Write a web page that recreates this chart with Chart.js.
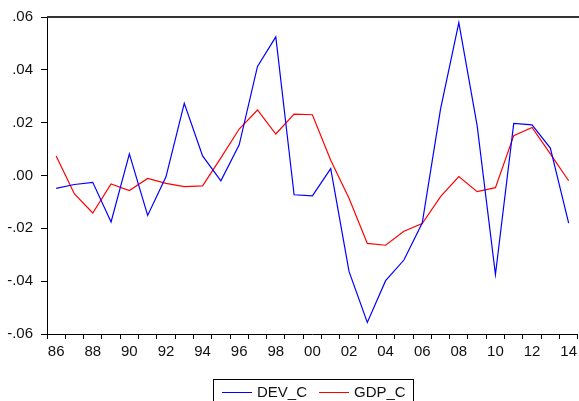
<!DOCTYPE html>
<html>
<head>
<meta charset="utf-8">
<script src="https://cdn.jsdelivr.net/npm/chart.js@4/dist/chart.umd.min.js"></script>
<style>
  html, body { margin: 0; padding: 0; background: #fff; }
  #wrap { width: 579px; height: 401px; overflow: hidden; }
  canvas { display: block; }
</style>
</head>
<body>
<div id="wrap"><canvas id="chart" width="581" height="401"></canvas></div>
<script>
var years = ['86','87','88','89','90','91','92','93','94','95','96','97','98','99',
             '00','01','02','03','04','05','06','07','08','09','10','11','12','13','14'];

var devC = [-0.0049, -0.0034, -0.0026, -0.0176, 0.0082, -0.0151, -0.0005, 0.0273, 0.0074, -0.0020,
            0.0116, 0.0413, 0.0525, -0.0073, -0.0077, 0.0026, -0.0363, -0.0556, -0.0398, -0.0320,
            -0.0180, 0.0251, 0.0579, 0.0189, -0.0375, 0.0197, 0.0192, 0.0104, -0.0180];

var gdpC = [0.0074, -0.0070, -0.0142, -0.0032, -0.0057, -0.0011, -0.0030, -0.0042, -0.0039, 0.0067,
            0.0176, 0.0248, 0.0157, 0.0232, 0.0230, 0.0058, -0.0086, -0.0257, -0.0264, -0.0211,
            -0.0182, -0.0080, -0.0004, -0.0061, -0.0046, 0.0151, 0.0182, 0.0082, -0.0020];

var seriesNames = ['DEV_C', 'GDP_C'];
var seriesColors = ['#0000ff', '#ff0000'];

var FONT = { family: '"Liberation Sans", Arial, sans-serif', size: 15 };

// top frame line (EViews style box, right side runs off the picture)
var framePlugin = {
    id: 'frame',
    afterDraw: function (chart) {
        var ctx = chart.ctx, a = chart.chartArea;
        ctx.save();
        ctx.strokeStyle = '#333';
        ctx.lineWidth = 2;
        ctx.beginPath();
        ctx.moveTo(a.left, a.top);
        ctx.lineTo(chart.width, a.top);
        ctx.stroke();
        ctx.restore();
    }
};

// boxed legend at the bottom
var boxLegend = {
    id: 'boxLegend',
    afterDraw: function (chart) {
        var ctx = chart.ctx;
        ctx.save();
        ctx.strokeStyle = '#000';
        ctx.lineWidth = 1;
        ctx.strokeRect(213.5, 379.5, 200, 30);
        ctx.font = FONT.size + 'px ' + FONT.family;
        ctx.textBaseline = 'middle';
        ctx.fillStyle = '#111';
        var y = 392.5;
        var xs = [222, 319];
        chart.data.datasets.forEach(function (ds, i) {
            ctx.strokeStyle = ds.borderColor;
            ctx.beginPath();
            ctx.moveTo(xs[i], y);
            ctx.lineTo(xs[i] + 30, y);
            ctx.stroke();
            ctx.fillText(ds.label, xs[i] + 35, y);
        });
        ctx.restore();
    }
};

new Chart(document.getElementById('chart').getContext('2d'), {
    type: 'line',
    data: {
        labels: years,
        datasets: [
            { label: seriesNames[0], data: devC, borderColor: seriesColors[0], backgroundColor: seriesColors[0],
              borderWidth: 1.2, pointRadius: 0, tension: 0 },
            { label: seriesNames[1], data: gdpC, borderColor: seriesColors[1], backgroundColor: seriesColors[1],
              borderWidth: 1.2, pointRadius: 0, tension: 0 }
        ]
    },
    options: {
        responsive: false,
        animation: false,
        events: [],
        layout: { padding: { top: 13, right: 0, bottom: 42, left: 0 } },
        plugins: { legend: { display: false }, tooltip: { enabled: false } },
        scales: {
            x: {
                offset: true,
                grid: { offset: true, drawOnChartArea: false, drawTicks: true, tickLength: 5, color: '#000' },
                border: { display: true, color: '#000', width: 1 },
                ticks: {
                    autoSkip: false, maxRotation: 0, padding: 4, color: '#111', font: FONT,
                    callback: function (v, i) { return i % 2 === 0 ? years[i] : ''; }
                },
                afterFit: function (s) { s.height = 25; }
            },
            y: {
                min: -0.06, max: 0.06,
                grid: { drawOnChartArea: false, drawTicks: true, tickLength: 6, color: '#000' },
                border: { display: true, color: '#000', width: 1 },
                ticks: {
                    stepSize: 0.02, padding: 8, color: '#111', font: FONT,
                    callback: function (v) {
                        if (Math.abs(v) < 1e-9) return '.00';
                        return v.toFixed(2).replace('0.', '.');
                    }
                },
                afterFit: function (s) { s.width = 47; }
            }
        }
    },
    plugins: [framePlugin, boxLegend]
});
</script>
</body>
</html>
